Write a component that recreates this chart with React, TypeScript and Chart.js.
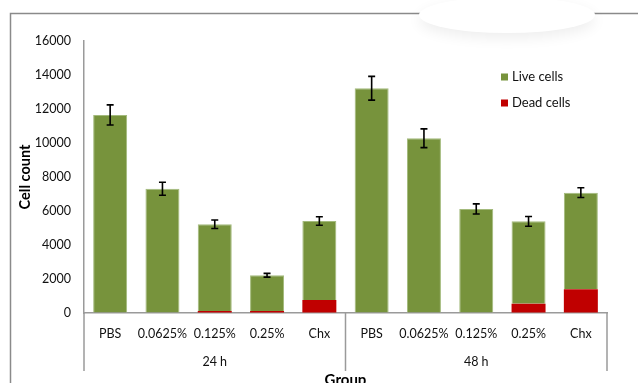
import React, { useEffect, useRef } from "react";
import { Chart, registerables } from "chart.js";

Chart.register(...registerables);

const categories = ["PBS", "0.0625%", "0.125%", "0.25%", "Chx", "PBS", "0.0625%", "0.125%", "0.25%", "Chx"];
const groups = ["24 h", "48 h"];
const groupSize = 5;
const liveCells = [11650, 7310, 5100, 2100, 4650, 13220, 10280, 6120, 4840, 5690];
const deadCells = [0, 0, 120, 120, 760, 0, 0, 0, 550, 1390];
const errors = [590, 380, 250, 110, 250, 700, 550, 300, 290, 290];
const yTicksMax = 16000;
const yStep = 2000;

const GREEN = "#77933C";
const RED = "#C00000";
const TEXT = "#111111";
const AXIS = "#9a9a9a";
const FONT = "Lato, 'Open Sans', sans-serif";

const decorPlugin = {
  id: "decor",
  beforeDraw(chart: any) {
    const { ctx, width, height } = chart;
    ctx.save();
    ctx.fillStyle = "#ffffff";
    ctx.fillRect(0, 0, width, height);
    ctx.strokeStyle = "#8a8a8a";
    ctx.lineWidth = 1.5;
    ctx.beginPath();
    ctx.moveTo(10.5, height);
    ctx.lineTo(10.5, 13.5);
    ctx.lineTo(width, 13.5);
    ctx.stroke();
    ctx.restore();
    // faint lifted white shape with soft shadow over the frame top
    ctx.save();
    ctx.shadowColor = "rgba(0,0,0,0.07)";
    ctx.shadowBlur = 14;
    ctx.shadowOffsetY = 5;
    ctx.fillStyle = "#ffffff";
    ctx.beginPath();
    ctx.ellipse(507, 15, 88, 18, 0, 0, Math.PI * 2);
    ctx.fill();
    ctx.restore();
  },
  afterDatasetsDraw(chart: any) {
    const { ctx } = chart;
    const x = chart.scales.x;
    const y = chart.scales.y;
    ctx.save();
    ctx.strokeStyle = "#000";
    ctx.lineWidth = 1.6;
    for (let i = 0; i < categories.length; i++) {
      const total = liveCells[i] + deadCells[i];
      const cx = x.getPixelForValue(i);
      const yt = y.getPixelForValue(total + errors[i]);
      const yb = y.getPixelForValue(total - errors[i]);
      ctx.beginPath();
      ctx.moveTo(cx, yt);
      ctx.lineTo(cx, yb);
      ctx.moveTo(cx - 3.5, yt);
      ctx.lineTo(cx + 3.5, yt);
      ctx.moveTo(cx - 3.5, yb);
      ctx.lineTo(cx + 3.5, yb);
      ctx.stroke();
    }
    ctx.restore();
  },
  afterDraw(chart: any) {
    const { ctx } = chart;
    const x = chart.scales.x;
    const area = chart.chartArea;
    ctx.save();
    ctx.strokeStyle = AXIS;
    ctx.lineWidth = 1.5;
    const step = (area.right - area.left) / categories.length;
    const bottomY = 371;
    for (let gi = 0; gi <= groups.length; gi++) {
      const px = area.left + gi * groupSize * step;
      ctx.beginPath();
      ctx.moveTo(px, area.bottom);
      ctx.lineTo(px, bottomY);
      ctx.stroke();
    }
    ctx.fillStyle = TEXT;
    ctx.font = `12.5px ${FONT}`;
    ctx.textAlign = "center";
    ctx.textBaseline = "middle";
    groups.forEach((g, gi) => {
      const a = x.getPixelForValue(gi * groupSize);
      const b = x.getPixelForValue(gi * groupSize + groupSize - 1);
      ctx.fillText(g, (a + b) / 2, 362);
    });
    ctx.fillStyle = "#000";
    ctx.font = `bold 15px ${FONT}`;
    ctx.fillText("Group", (area.left + area.right) / 2, 380);
    const legend = [
      { label: "Live cells", color: GREEN, y: 77 },
      { label: "Dead cells", color: RED, y: 103 },
    ];
    ctx.font = `13px ${FONT}`;
    ctx.textAlign = "left";
    legend.forEach((l) => {
      ctx.fillStyle = l.color;
      ctx.fillRect(501, l.y - 3.5, 7, 7);
      ctx.fillStyle = TEXT;
      ctx.fillText(l.label, 512, l.y);
    });
    ctx.restore();
  },
};

export default function App() {
  const ref = useRef<HTMLCanvasElement>(null);
  useEffect(() => {
    document.body.style.margin = "0";
    const chart = new Chart(ref.current!, {
      type: "bar",
      data: {
        labels: categories,
        datasets: [
          {
            label: "Dead cells",
            data: deadCells,
            backgroundColor: RED,
            borderWidth: 0,
            barPercentage: 0.65,
            categoryPercentage: 1,
          },
          {
            label: "Live cells",
            data: liveCells,
            backgroundColor: GREEN,
            borderColor: "#a3ba7c",
            borderWidth: 1,
            barPercentage: 0.65,
            categoryPercentage: 1,
          },
        ],
      },
      options: {
        responsive: false,
        animation: false,
        devicePixelRatio: 1,
        layout: { padding: { top: 41, right: 31, left: 0, bottom: 0 } },
        plugins: { legend: { display: false }, tooltip: { enabled: false }, title: { display: false } },
        scales: {
          x: {
            stacked: true,
            grid: { display: true, color: "rgba(0,0,0,0)", drawTicks: false },
            border: { display: true, color: AXIS, width: 1.5 },
            ticks: { color: TEXT, font: { family: FONT, size: 12.5 }, padding: 13, maxRotation: 0, autoSkip: false },
            afterFit: (s: any) => {
              s.height = 70;
            },
          },
          y: {
            stacked: true,
            min: 0,
            max: yTicksMax,
            grid: { display: true, color: "rgba(0,0,0,0)", drawTicks: false },
            border: { display: true, color: AXIS, width: 1.5 },
            ticks: {
              stepSize: yStep,
              color: TEXT,
              font: { family: FONT, size: 12.5 },
              padding: 13,
              callback: (v: any) => String(v),
            },
            title: {
              display: true,
              text: "Cell count",
              color: "#000",
              font: { family: FONT, size: 14.5, weight: "bold" },
              padding: { top: 17, bottom: 0 },
            },
            afterFit: (s: any) => {
              s.width = 84;
            },
          },
        },
      },
      plugins: [decorPlugin],
    });
    return () => chart.destroy();
  }, []);
  return (
    <div style={{ width: 638, height: 383, overflow: "hidden" }}>
      <canvas ref={ref} width={638} height={383} style={{ display: "block" }} />
    </div>
  );
}
